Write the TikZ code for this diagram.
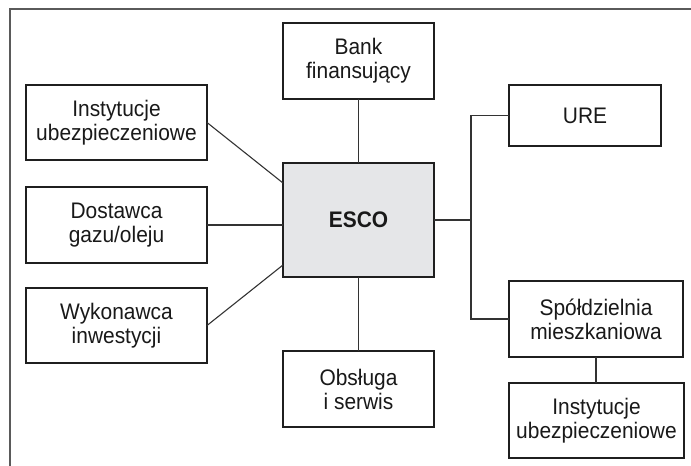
\documentclass[tikz,border=0pt]{standalone}
\usepackage{fontspec}
\setmainfont[FakeStretch=0.93]{Liberation Sans}
\usepackage{tikz}
\usetikzlibrary{positioning,calc}

\definecolor{escofill}{HTML}{E5E6E8}
\definecolor{framegray}{HTML}{5A5A5A}

\begin{document}
\begin{tikzpicture}[
            x=1pt, y=-1pt,
            outer sep=0pt,
            box/.style={
                draw=black!88, line width=2pt, fill=white, minimum width=181pt, minimum height=75pt, align=center, inner sep=2pt, font=\fontsize{22.5}{24}\selectfont, text=black!90, anchor=center
            },
            hubbox/.style={
                box, fill=escofill, font=\fontsize{22.5}{24}\selectfont\bfseries
            },
            link/.style={
                draw=black!80, line width=1.1pt
            },
            frame/.style={
                draw=framegray, line width=1.5pt
            }
        ]
            \useasboundingbox (0,0) rectangle (691,466);

            % RAMKA
            \draw[frame] (10,466) -- (10,9) -- (691,9);

            % --- SRODEK ---
            \node[hubbox, minimum width=151pt, minimum height=114pt] (esco) at (358.5,220) {ESCO};

            % --- LEWA STRONA ---
            \node[box] (instL) at (116.5,122.5) {Instytucje\\ubezpieczeniowe};
            \node[box, minimum height=76pt] (dost) at (116.5,225) {Dostawca\\gazu/oleju};
            \node[box] (wyk) at (116.5,325.5) {Wykonawca\\inwestycji};

            % --- GORA I DOL ---
            \node[box, minimum width=151pt, minimum height=76pt] (bank) at (358.5,61) {Bank\\finansujący};
            \node[box, minimum width=151pt, minimum height=76pt] (obs) at (358.5,389) {Obsługa\\i serwis};

            % --- PRAWA STRONA ---
            \node[box, minimum width=152pt, minimum height=61pt] (ure) at (585,115.5) {URE};
            \node[box, minimum width=174pt, minimum height=76pt] (spol) at (596,319) {Spółdzielnia\\mieszkaniowa};
            \node[box, minimum width=175pt] (instR) at (596.5,420.5) {Instytucje\\ubezpieczeniowe};

            % POLACZENIA
            \draw[link] (bank) -- (esco);
            \draw[link] (esco) -- (obs);
            \draw[link] (instL.east) -- ([yshift=37pt]esco.west);
            \draw[link] (dost.east) -- (dost.east -| esco.west);
            \draw[link] (wyk.east) -- ([yshift=-45pt]esco.west);

            % rozgalezienie w prawo
            \coordinate (hub) at ([xshift=37pt]esco.east);
            \draw[link] (esco.east) -- (hub);
            \draw[link] (ure.west) -| (hub) |- (spol.west);
            \draw[link] (spol.south) -- (spol.south |- instR.north);

        \end{tikzpicture}
\end{document}
